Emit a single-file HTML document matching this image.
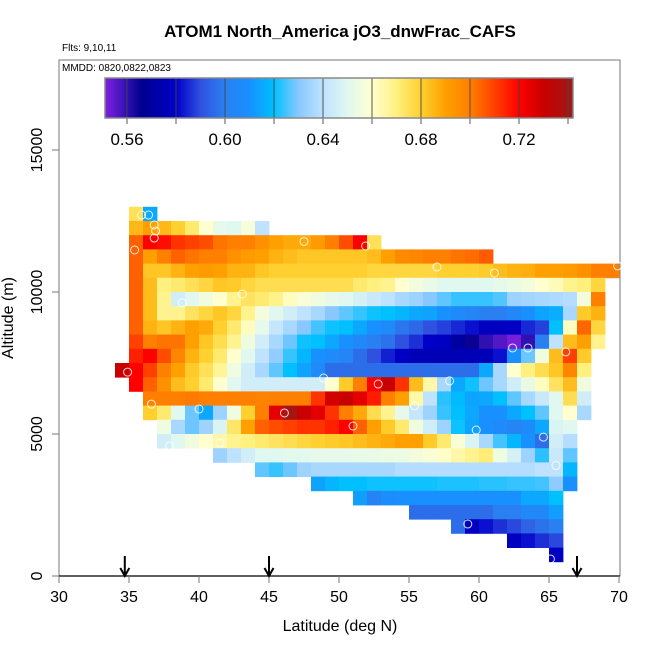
<!DOCTYPE html>
<html><head><meta charset="utf-8"><style>
html,body{margin:0;padding:0;background:#fff;}
svg{display:block;font-family:"Liberation Sans",Arial,sans-serif;}
</style></head><body>
<svg id="chart" width="650" height="650" viewBox="0 0 650 650">
<text x="340" y="37" text-anchor="middle" font-size="17" font-weight="bold">ATOM1 North_America jO3_dnwFrac_CAFS</text>
<text x="62" y="51" font-size="10">Flts: 9,10,11</text>
<rect x="59" y="60" width="561" height="516" fill="none" stroke="#777" stroke-width="1"/>
<text x="62" y="71" font-size="10">MMDD: 0820,0822,0823</text>
<g id="cells"></g>
<g id="pts"></g>
<g id="cbar"></g>
<g id="axes"></g>
<text x="340" y="631" text-anchor="middle" font-size="16">Latitude (deg N)</text>
<text transform="translate(13,318) rotate(-90)" text-anchor="middle" font-size="16">Altitude (m)</text>
</svg>
<script>
// ---- data ----
const rowAlts = [12500,12000,11500,11000,10500,10000,9500,9000,8500,8000,7500,7000,6500,6000,5500,5000,4500,4000,3500,3000,2500,2000,1500,1000,500];
const rowStartLat = [35,35,35,35,35,35,35,35,35,35,35,34,35,36,36,37,37,41,44,48,51,55,58,62,65];
const row12500 = [.675,.615];
const row12000 = [.685,.69,.685,.68,.672,.66,.652,.65,.657,.64];
const row11500 = [.705,.72,.718,.712,.71,.708,.702,.70,.70,.695,.69,.688,.688,.692,.70,.708,.72,.675];
const row11000 = [.705,.69,.70,.705,.702,.70,.70,.695,.692,.69,.686,.684,.682,.682,.682,.682,.682,.684,.69,.697,.698,.70,.70,.702,.703,.706];
const row10500 = [.705,.682,.682,.686,.69,.692,.69,.686,.686,.682,.68,.68,.68,.68,.68,.68,.68,.678,.678,.678,.678,.678,.68,.68,.68,.681,.684,.686,.687,.69,.69,.692,.695,.70,.70];
const row10000 = [.705,.684,.67,.672,.675,.678,.682,.681,.678,.676,.676,.676,.676,.676,.676,.676,.672,.67,.668,.66,.656,.653,.65,.65,.65,.65,.652,.654,.656,.66,.663,.668,.67,.678];
const row9500 = [.705,.684,.668,.645,.65,.655,.66,.668,.674,.672,.669,.662,.658,.655,.652,.65,.647,.643,.64,.636,.634,.63,.627,.624,.624,.624,.626,.634,.635,.636,.637,.638,.656,.70];
const row9000 = [.705,.684,.668,.668,.674,.678,.682,.678,.668,.656,.65,.645,.64,.636,.63,.627,.624,.621,.62,.618,.615,.614,.61,.606,.603,.60,.60,.605,.61,.614,.616,.636,.681,.686];
const row8500 = [.705,.686,.682,.686,.69,.688,.68,.672,.662,.652,.642,.636,.63,.625,.621,.62,.615,.61,.606,.598,.595,.59,.588,.585,.582,.578,.578,.579,.585,.588,.62,.662,.704,.678];
const row8000 = [.71,.70,.702,.702,.69,.682,.676,.668,.655,.645,.636,.628,.621,.62,.615,.61,.605,.60,.597,.59,.586,.58,.578,.57,.565,.56,.556,.552,.56,.60,.64,.684,.69,.668];
const row7500 = [.715,.72,.708,.698,.686,.68,.672,.66,.65,.64,.632,.624,.618,.61,.606,.603,.596,.59,.584,.579,.576,.575,.575,.575,.575,.576,.582,.61,.628,.655,.684,.71,.681];
const row7000 = [.73,.72,.71,.70,.69,.681,.675,.667,.655,.645,.636,.627,.62,.614,.606,.596,.596,.596,.596,.596,.596,.596,.596,.596,.596,.596,.615,.636,.66,.67,.676,.682,.698,.67];
const row6500 = [.72,.705,.695,.684,.68,.672,.66,.65,.645,.645,.645,.645,.645,.645,.66,.681,.70,.72,.73,.712,.684,.665,.636,.615,.621,.628,.636,.645,.653,.662,.674,.684,.655];
const row6000 = [.70,.70,.70,.701,.70,.70,.70,.70,.699,.70,.70,.70,.712,.728,.73,.725,.716,.70,.69,.665,.64,.623,.619,.614,.615,.62,.627,.636,.643,.65,.676,.645];
const row5500 = [.68,.672,.65,.628,.615,.634,.655,.68,.70,.725,.74,.73,.725,.712,.70,.688,.676,.668,.652,.642,.634,.624,.62,.615,.61,.61,.615,.62,.627,.65,.66,.636];
const row5000 = [.655,.636,.628,.634,.648,.673,.69,.705,.708,.71,.712,.712,.715,.72,.705,.69,.681,.672,.655,.645,.634,.621,.614,.61,.606,.603,.606,.615,.648,.65];
const row4500 = [.645,.65,.655,.66,.665,.668,.67,.672,.674,.676,.678,.68,.681,.682,.684,.686,.688,.69,.69,.681,.672,.658,.648,.636,.625,.618,.61,.596,.645,.638];
const row4000 = [.634,.64,.645,.65,.65,.651,.651,.652,.652,.652,.653,.653,.654,.654,.656,.658,.661,.665,.668,.671,.655,.647,.634,.623,.643,.627];
const row3500 = [.627,.624,.628,.634,.636,.636,.636,.636,.636,.636,.638,.638,.638,.638,.638,.638,.638,.638,.638,.638,.64,.64,.618];
const row3000 = [.614,.618,.62,.62,.621,.621,.621,.621,.621,.622,.622,.622,.623,.623,.624,.624,.625,.631,.61];
const row2500 = [.613,.602,.608,.61,.61,.61,.61,.61,.61,.61,.61,.61,.615,.615,.62];
const row2000 = [.596,.596,.596,.596,.596,.596,.60,.60,.605,.605,.613];
const row1500 = [.596,.578,.582,.586,.589,.594,.597,.60];
const row1000 = [.578,.582,.586,.589];
const row500 = [.578];
const rowValues = [row12500,row12000,row11500,row11000,row10500,row10000,row9500,row9000,row8500,row8000,row7500,row7000,row6500,row6000,row5500,row5000,row4500,row4000,row3500,row3000,row2500,row2000,row1500,row1000,row500];
const pointLat = [35.9,36.4,36.8,36.9,36.8,35.4,47.5,51.9,57.0,61.1,69.9,38.8,43.1,62.4,63.5,66.2,34.9,48.9,52.8,57.9,36.6,40.0,46.1,51.0,55.4,59.8,64.6,37.9,41.5,65.5,59.2,65.1];
const pointAlt = [12710,12710,12360,12150,11900,11480,11780,11620,10880,10670,10920,9620,9930,8030,8030,7890,7180,6970,6760,6870,6050,5880,5740,5280,5990,5140,4890,4580,4680,3890,1830,600];
const cbarTicks = [0.56,0.60,0.64,0.68,0.72];
const cbarDividers = [0.56,0.58,0.60,0.62,0.64,0.66,0.68,0.70,0.72,0.74];
const xTicks = [30,35,40,45,50,55,60,65,70];
const yTicks = [0,5000,10000,15000];
const arrowLats = [34.7,45,67];

// ---- scales ----
const NS='http://www.w3.org/2000/svg';
const xS = lat => 59 + (lat-30)*14;
const yS = alt => 576 - alt*0.0284;
const cbX = v => 127 + (v-0.56)*2450;
const stops = [[0.551,'#8020e0'],[0.56,'#3010b0'],[0.566,'#000090'],[0.58,'#0000c8'],[0.59,'#3050e0'],[0.60,'#2a80f0'],[0.61,'#1890ff'],[0.62,'#00c0ff'],[0.63,'#88c8ff'],[0.64,'#bfe2ff'],[0.65,'#e0f8f0'],[0.66,'#ffffd0'],[0.67,'#fff080'],[0.68,'#ffd030'],[0.69,'#ffa000'],[0.70,'#ff8000'],[0.71,'#ff4000'],[0.72,'#ff0000'],[0.73,'#c80000'],[0.742,'#a01818']];
function hex(h){return [parseInt(h.substr(1,2),16),parseInt(h.substr(3,2),16),parseInt(h.substr(5,2),16)];}
function col(v){
  if(v<=stops[0][0]) return stops[0][1];
  for(let i=1;i<stops.length;i++){
    if(v<=stops[i][0]){
      const t=(v-stops[i-1][0])/(stops[i][0]-stops[i-1][0]);
      const a=hex(stops[i-1][1]),b=hex(stops[i][1]);
      return 'rgb('+a.map((c,k)=>Math.round(c+(b[k]-c)*t)).join(',')+')';
    }
  }
  return stops[stops.length-1][1];
}
function mk(tag,attrs,parent){const e=document.createElementNS(NS,tag);for(const k in attrs)e.setAttribute(k,attrs[k]);parent.appendChild(e);return e;}

// cells
const cg=document.getElementById('cells');
rowValues.forEach((vals,r)=>{
  vals.forEach((v,i)=>{
    const lat=rowStartLat[r]+i, alt=rowAlts[r];
    const x0=xS(lat),x1=xS(lat+1),y0=yS(alt+500),y1=yS(alt);
    const c=mk('rect',{x:x0,y:y0,width:x1-x0+0.4,height:y1-y0+0.4,fill:col(v)},cg);
    
    
  });
});
// points
const pg=document.getElementById('pts');
pointLat.forEach((lat,i)=>{
  const c=mk('circle',{cx:xS(lat),cy:yS(pointAlt[i]),r:4,fill:'none',stroke:'#fff','stroke-width':1,'stroke-opacity':0.85},pg);
  
  
});
// colorbar
const cb=document.getElementById('cbar');
for(let px=105;px<573;px++){
  const v=0.56+(px+0.5-127)/2450;
  const s=mk('rect',{x:px,y:78,width:1.2,height:40,fill:col(v)},cb);
  
  
}
cbarDividers.forEach(v=>{
  const l=mk('line',{x1:cbX(v),x2:cbX(v),y1:78,y2:124,stroke:'#444','stroke-opacity':0.6,'stroke-width':1.5},cb);
  
  
});
const cbf=mk('rect',{x:105,y:78,width:468,height:40,fill:'none',stroke:'#888','stroke-width':1.5},cb);


cbarTicks.forEach(v=>{
  const t=mk('text',{x:cbX(v),y:145,'text-anchor':'middle','font-size':17},cb);
  t.textContent=v.toFixed(2);
  
  
});
// axes
const ag=document.getElementById('axes');
const xl=mk('line',{x1:59,x2:620,y1:576,y2:576,stroke:'#000','stroke-width':1.2},ag);


xTicks.forEach(v=>{
  const l=mk('line',{x1:xS(v),x2:xS(v),y1:576,y2:583,stroke:'#777'},ag);
  
  
  const t=mk('text',{x:xS(v),y:602,'text-anchor':'middle','font-size':16},ag);
  t.textContent=v;
  
  
});
yTicks.forEach(v=>{
  const l=mk('line',{x1:52,x2:59,y1:yS(v),y2:yS(v),stroke:'#777'},ag);
  
  
  const t=mk('text',{x:0,y:0,'text-anchor':'middle','font-size':16,transform:'translate(42,'+yS(v)+') rotate(-90)'},ag);
  t.textContent=v;
  
  
});
arrowLats.forEach(lat=>{
  const x=xS(lat);
  const l=mk('line',{x1:x,x2:x,y1:556,y2:575,stroke:'#000','stroke-width':2},ag);
  
  
  const h=mk('path',{d:'M'+(x-4.5)+' 568 L'+x+' 576 L'+(x+4.5)+' 568',fill:'none',stroke:'#000','stroke-width':2},ag);
  
  
});
</script>
</body></html>
